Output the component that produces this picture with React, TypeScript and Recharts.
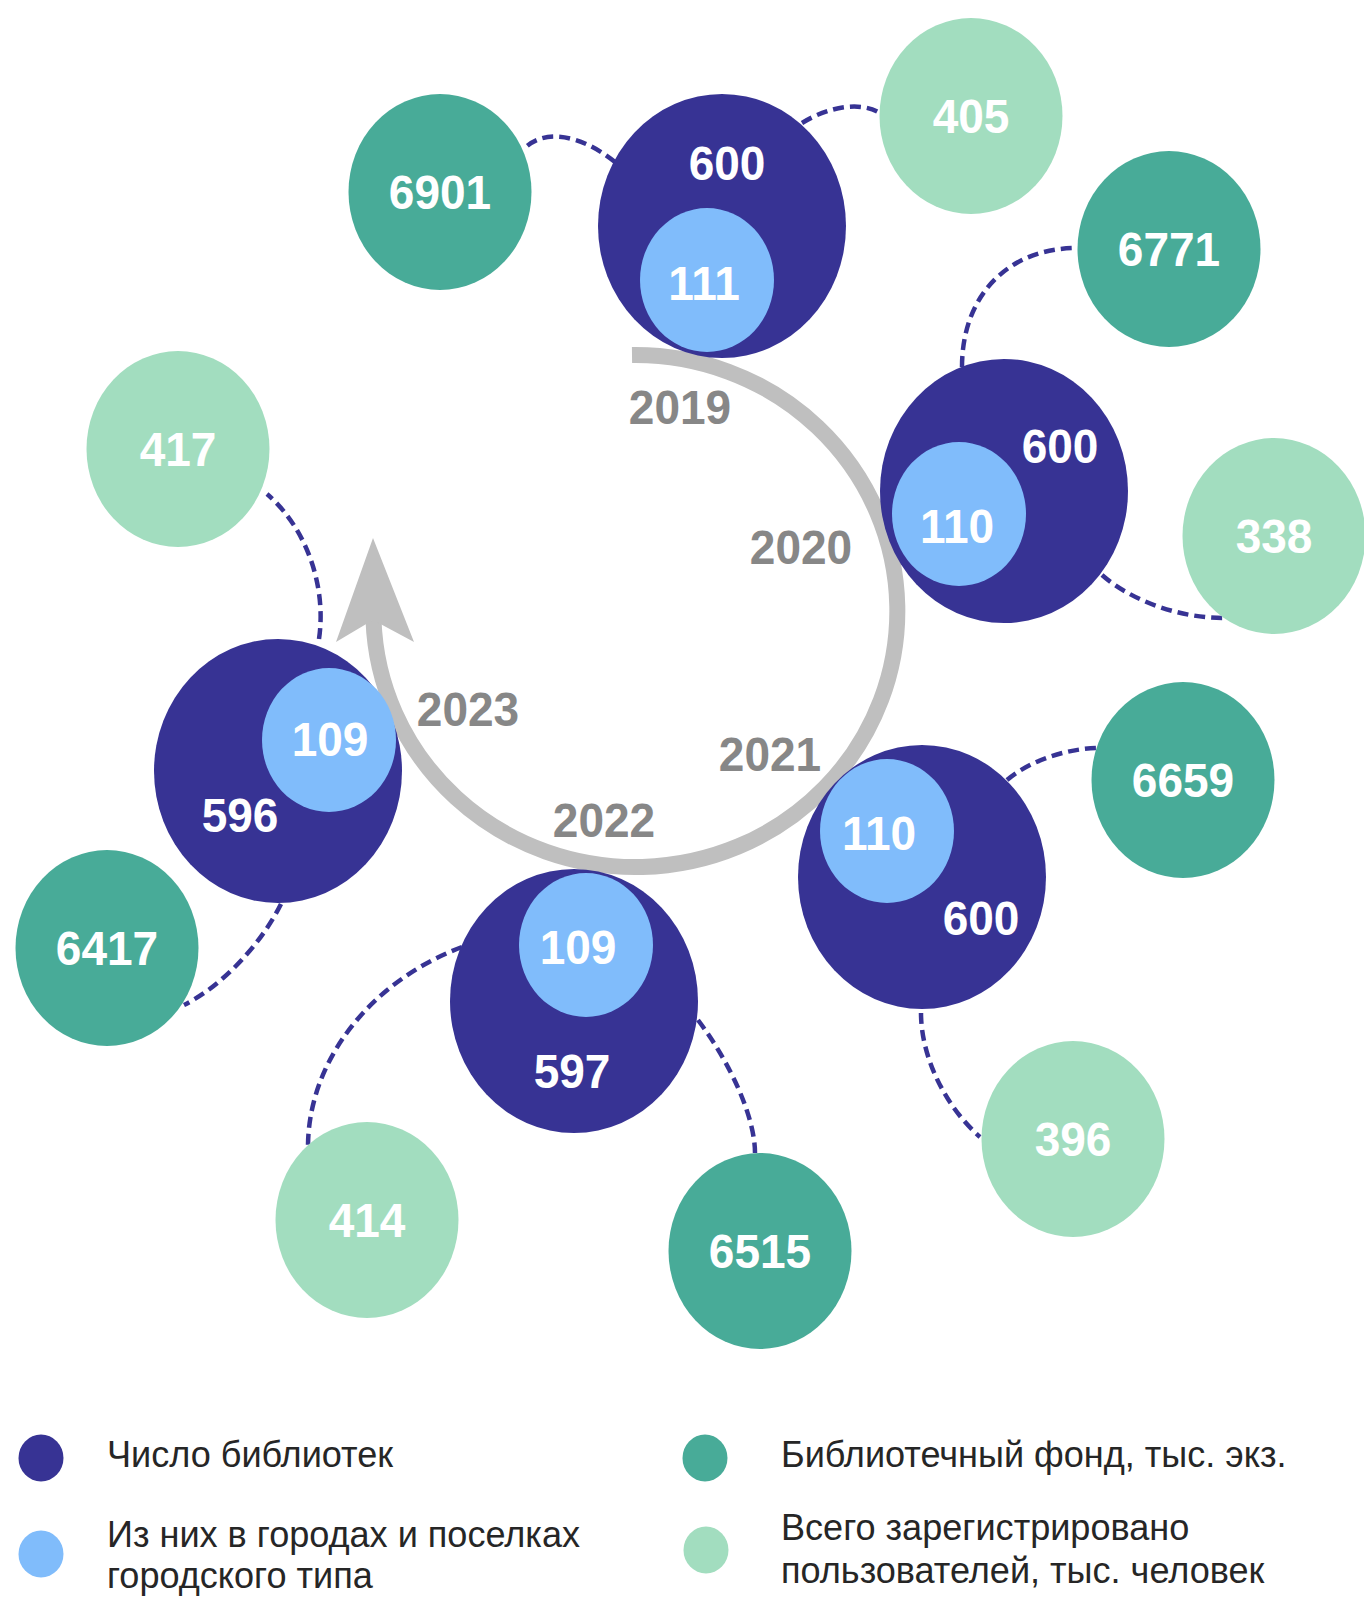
import { ScatterChart, Scatter, XAxis, YAxis } from 'recharts'

const W = 1364
const H = 1598

// ---- data ----
const years = ['2019', '2020', '2021', '2022', '2023']
const libraries = [600, 600, 600, 597, 596]
const urbanLibraries = [111, 110, 110, 109, 109]
const bookFund = [6901, 6771, 6659, 6515, 6417]
const users = [405, 338, 396, 414, 417]

const legendItems = [
  { color: '#373394', lines: ['Число библиотек'] },
  { color: '#80BCFB', lines: ['Из них в городах и поселках', 'городского типа'] },
  { color: '#48AB98', lines: ['Библиотечный фонд, тыс. экз.'] },
  { color: '#A2DDBF', lines: ['Всего зарегистрировано', 'пользователей, тыс. человек'] },
]

// ---- layout (chart units = pixels) ----
const libPos = [[722, 226], [1004, 491], [922, 877], [574, 1001], [278, 771]]
const libLabelPos = [[727, 163], [1060, 446], [981, 918], [572, 1071], [240, 815]]
const urbanPos = [[707, 280], [959, 514], [887, 831], [586, 945], [329, 740]]
const urbanLabelPos = [[704, 283], [957, 526], [879, 833], [578, 947], [330, 739]]
const fundPos = [[440, 192], [1169, 249], [1183, 780], [760, 1251], [107, 948]]
const usersPos = [[971, 116], [1274, 536], [1073, 1139], [367, 1220], [178, 449]]
const yearLabelPos = [[680, 407], [801, 547], [770, 754], [604, 820], [468, 709]]
// start, corner, end
const fundLinks = [
  [[615, 162], [555, 114], [523, 150]],
  [[962, 367], [962, 248], [1077, 248]],
  [[1007, 780], [1045, 748], [1100, 748]],
  [[698, 1020], [755, 1096], [755, 1153]],
  [[281, 904], [246, 974], [184, 1005]],
]
const usersLinks = [
  [[802, 123], [849, 94], [880, 113]],
  [[1102, 575], [1151, 618], [1223, 618]],
  [[921, 1013], [921, 1085], [980, 1137]],
  [[462, 947], [308, 1005], [308, 1147]],
  [[319, 639], [332, 550], [267, 494]],
]
const ringCenter = { x: 635.5, y: 611 }

const NAVY = '#373394'
const SKY = '#80BCFB'
const TEAL = '#48AB98'
const MINT = '#A2DDBF'
const GREY = '#BFBFBF'
const FONT = "'Liberation Sans', Arial, sans-serif"

const libData = years.map((year, i) => ({
  x: libPos[i][0], y: libPos[i][1], value: libraries[i],
  lx: libLabelPos[i][0], ly: libLabelPos[i][1], year,
}))
const urbanData = years.map((year, i) => ({
  x: urbanPos[i][0], y: urbanPos[i][1], value: urbanLibraries[i],
  lx: urbanLabelPos[i][0], ly: urbanLabelPos[i][1], year,
}))
const fundData = years.map((year, i) => ({
  x: fundPos[i][0], y: fundPos[i][1], value: bookFund[i], lx: fundPos[i][0], ly: fundPos[i][1], year,
}))
const usersData = years.map((year, i) => ({
  x: usersPos[i][0], y: usersPos[i][1], value: users[i], lx: usersPos[i][0], ly: usersPos[i][1], year,
}))
const yearData = years.map((year, i) => ({ x: yearLabelPos[i][0], y: yearLabelPos[i][1], year }))
const linkData = [...fundLinks, ...usersLinks].map((l) => ({
  x: l[0][0], y: l[0][1], corner: l[1], end: l[2],
}))

// bold label, stretched a little in height like the original
const BigText = ({ x, y, fill, children }: any) => (
  <text
    transform={`translate(${x},${y}) scale(1,1.06)`}
    textAnchor="middle"
    dominantBaseline="central"
    fill={fill}
    fontFamily={FONT}
    fontWeight={700}
    fontSize={46}
  >
    {children}
  </text>
)

const bubble = (fill: string, rx: number, ry: number) => (props: any) => {
  const { cx, cy, payload } = props
  if (cx == null || cy == null) return null
  const tx = cx + (payload.lx - payload.x)
  const ty = cy + (payload.ly - payload.y)
  return (
    <g>
      <ellipse cx={cx} cy={cy} rx={rx} ry={ry} fill={fill} />
      <BigText x={tx} y={ty} fill="#fff">{payload.value}</BigText>
    </g>
  )
}

const linkShape = (props: any) => {
  const { cx, cy, payload } = props
  if (cx == null || cy == null) return null
  const k = 0.6
  const cxp = cx + (payload.corner[0] - payload.x)
  const cyp = cy + (payload.corner[1] - payload.y)
  const ex = cx + (payload.end[0] - payload.x)
  const ey = cy + (payload.end[1] - payload.y)
  const c1x = cx + k * (cxp - cx)
  const c1y = cy + k * (cyp - cy)
  const c2x = ex + k * (cxp - ex)
  const c2y = ey + k * (cyp - ey)
  return (
    <path
      d={`M${cx},${cy} C${c1x},${c1y} ${c2x},${c2y} ${ex},${ey}`}
      fill="none"
      stroke={NAVY}
      strokeWidth={4.5}
      strokeDasharray="11 6"
    />
  )
}

const ringShape = (props: any) => {
  const { cx, cy } = props
  if (cx == null || cy == null) return null
  const rx = 262
  const ry = 256
  const sx = cx - 3.5
  const sy = cy - ry * Math.sqrt(1 - (3.5 / rx) ** 2)
  const ex = cx - rx
  const ey = cy + 9
  return (
    <g>
      <path
        d={`M${sx},${sy} A${rx},${ry} 0 1 1 ${ex},${ey}`}
        fill="none"
        stroke={GREY}
        strokeWidth={16}
      />
      <path
        d={`M${ex - 0.5},${ey - 82} L${ex + 40.5},${ey + 22} L${ex - 0.5},${ey} L${ex - 37.5},${ey + 22} Z`}
        fill={GREY}
      />
    </g>
  )
}

const yearShape = (props: any) => {
  const { cx, cy, payload } = props
  if (cx == null || cy == null) return null
  return <BigText x={cx} y={cy} fill="#878787">{payload.year}</BigText>
}

function LegendBlock() {
  const spots = [
    { mx: 41, my: 1458, tx: 107, base: [1467] },
    { mx: 41, my: 1554, tx: 107, base: [1547, 1588] },
    { mx: 705, my: 1458, tx: 781, base: [1467] },
    { mx: 706, my: 1550, tx: 781, base: [1540, 1583] },
  ]
  return (
    <svg width={W} height={H} style={{ position: 'absolute', left: 0, top: 0, pointerEvents: 'none' }}>
      {legendItems.map((item, i) => (
        <g key={i}>
          <ellipse cx={spots[i].mx} cy={spots[i].my} rx={22.5} ry={23.5} fill={item.color} />
          {item.lines.map((line, j) => (
            <text
              key={j}
              transform={`translate(${spots[i].tx},${spots[i].base[j]}) scale(0.975,1)`}
              fill="#262626"
              fontFamily={FONT}
              fontSize={37}
            >
              {line}
            </text>
          ))}
        </g>
      ))}
    </svg>
  )
}

export default function App() {
  return (
    <div style={{ position: 'absolute', left: 0, top: 0, width: W, height: H, background: '#fff' }}>
      <ScatterChart width={W} height={H} margin={{ top: 0, right: 0, bottom: 0, left: 0 }}>
        <XAxis type="number" dataKey="x" domain={[0, W]} hide allowDataOverflow />
        <YAxis type="number" dataKey="y" domain={[0, H]} reversed hide allowDataOverflow />
        <Scatter data={[ringCenter]} shape={ringShape} isAnimationActive={false} />
        <Scatter data={linkData} shape={linkShape} isAnimationActive={false} />
        <Scatter data={libData} shape={bubble(NAVY, 124, 132)} isAnimationActive={false} />
        <Scatter data={urbanData} shape={bubble(SKY, 67, 72)} isAnimationActive={false} />
        <Scatter data={fundData} shape={bubble(TEAL, 91.5, 98)} isAnimationActive={false} />
        <Scatter data={usersData} shape={bubble(MINT, 91.5, 98)} isAnimationActive={false} />
        <Scatter data={yearData} shape={yearShape} isAnimationActive={false} />
      </ScatterChart>
      <LegendBlock />
    </div>
  )
}
